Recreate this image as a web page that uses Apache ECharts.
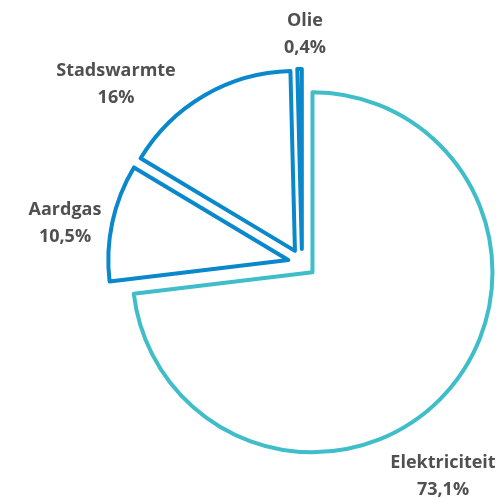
<!DOCTYPE html>
<html>
<head>
<meta charset="utf-8">
<script src="https://cdn.jsdelivr.net/npm/echarts@6/dist/echarts.min.js"></script>
<style>
  html, body { margin: 0; padding: 0; background: #fff; }
  #chart { width: 499px; height: 498px; }
</style>
</head>
<body>
<div id="chart"></div>
<script>
const categories = ['Elektriciteit', 'Aardgas', 'Stadswarmte', 'Olie'];
const shares = [73.1, 10.5, 16, 0.4];
const colors = ['#3fbdc9', '#0a88cc', '#0a88cc', '#0a88cc'];

// centre of each two-line label
const labelSpots = [
  [443, 476],
  [65, 223],
  [116, 84],
  [305, 34]
];

const fmt = (v) => String(v).replace('.', ',') + '%';

const chart = echarts.init(document.getElementById('chart'));

const option = {
  animation: false,
  graphic: categories.map((name, i) => ({
    type: 'text',
    x: labelSpots[i][0],
    y: labelSpots[i][1],
    style: {
      text: name + '\n' + fmt(shares[i]),
      fontFamily: 'Open Sans',
      fontWeight: 'bold',
      fontSize: 18,
      lineHeight: 27,
      fill: '#505050',
      textAlign: 'center',
      textVerticalAlign: 'middle'
    }
  })),
  series: [
    {
      type: 'pie',
      center: [302, 263],
      radius: [0, 180],
      startAngle: 90,
      clockwise: true,
      selectedMode: 'multiple',
      selectedOffset: 14,
      emphasis: { disabled: true },
      label: { show: false },
      labelLine: { show: false },
      data: categories.map((name, i) => ({
        name: name,
        value: shares[i],
        selected: true,
        itemStyle: { color: '#ffffff', borderColor: colors[i], borderWidth: 4 },
        select: { itemStyle: { color: '#ffffff', borderColor: colors[i], borderWidth: 4 } }
      }))
    }
  ]
};

chart.setOption(option);
</script>
</body>
</html>
